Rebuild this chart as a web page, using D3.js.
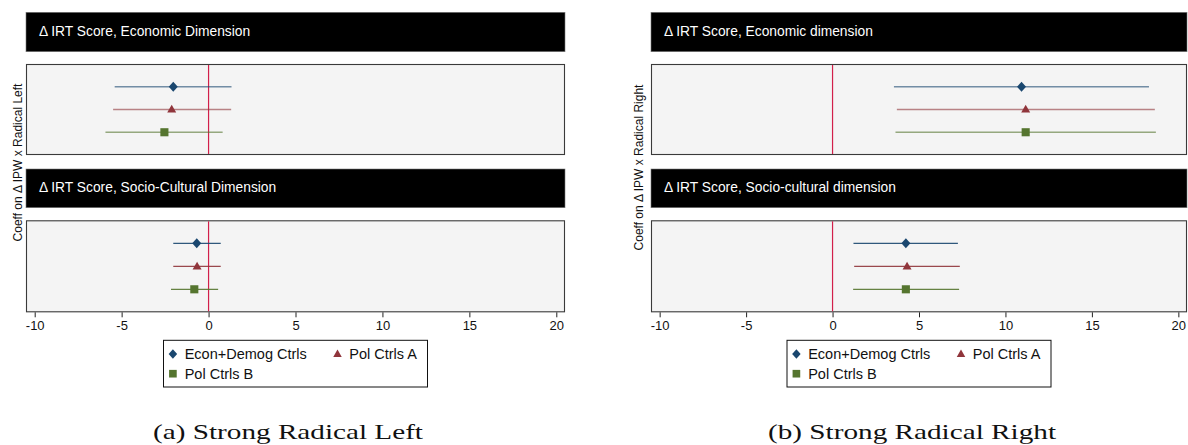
<!DOCTYPE html>
<html>
<head>
<meta charset="utf-8">
<script src="https://cdn.jsdelivr.net/npm/d3@7"></script>
<style>
html,body{margin:0;padding:0;background:#fff;}
svg{display:block;}
</style>
</head>
<body>
<svg id="chart" width="1188" height="445"></svg>
<script>
// ---------------- DATA ----------------
const seriesNames = ["Econ+Demog Ctrls", "Pol Ctrls A", "Pol Ctrls B"];
const xTickValues = [-10, -5, 0, 5, 10, 15, 20];
const xTickLabels = ["-10", "-5", "0", "5", "10", "15", "20"];

const leftTitles = ["Δ IRT Score, Economic Dimension", "Δ IRT Score, Socio-Cultural Dimension"];
const rightTitles = ["Δ IRT Score, Economic dimension", "Δ IRT Score, Socio-cultural dimension"];
const yTitles = ["Coeff on Δ IPW x Radical Left", "Coeff on Δ IPW x Radical Right"];
const captions = ["(a) Strong Radical Left", "(b) Strong Radical Right"];

const leftEconEst = [-2.03, -2.12, -2.54];
const leftEconLo  = [-5.40, -5.49, -5.93];
const leftEconHi  = [1.32, 1.30, 0.81];
const leftSocEst  = [-0.68, -0.66, -0.82];
const leftSocLo   = [-2.03, -2.03, -2.16];
const leftSocHi   = [0.70, 0.70, 0.55];

const rightEconEst = [10.93, 11.17, 11.17];
const rightEconLo  = [3.55, 3.72, 3.64];
const rightEconHi  = [18.30, 18.64, 18.70];
const rightSocEst  = [4.24, 4.31, 4.24];
const rightSocLo   = [1.21, 1.25, 1.19];
const rightSocHi   = [7.25, 7.36, 7.32];

// ---------------- STYLE ----------------
const markerColors = ["#1a476f", "#90353b", "#55752f"];
const markerShapes = ["diamond", "triangle", "square"];
const sansFont = "'Liberation Sans', Arial, Helvetica, sans-serif";
const serifFont = "'Liberation Serif', 'Times New Roman', serif";

const svg = d3.select("#chart");

function shapePath(shape, cx, cy, s) {
  if (shape === "diamond") {
    const w = s * 0.5, h = s * 0.56;
    return `M${cx},${cy - h}L${cx + w},${cy}L${cx},${cy + h}L${cx - w},${cy}Z`;
  } else if (shape === "triangle") {
    const w = s * 0.5, h = s * 0.86;
    return `M${cx},${cy - h * 0.6}L${cx + w},${cy + h * 0.4}L${cx - w},${cy + h * 0.4}Z`;
  } else {
    const w = s * 0.45;
    return `M${cx - w},${cy - w}L${cx + w},${cy - w}L${cx + w},${cy + w}L${cx - w},${cy + w}Z`;
  }
}

const headerBands = [[12.3, 51.7], [169, 207.7]];
const plotBands = [[64, 155], [220.3, 312.3]];

const panels = [
  {x0: 26, x1: 565, titles: leftTitles, yTitle: yTitles[0], yTitleX: 18, yTitleY: 162.5,
   caption: captions[0], capX: 288, capW: 270,
   est: [leftEconEst, leftSocEst], lo: [leftEconLo, leftSocLo], hi: [leftEconHi, leftSocHi]},
  {x0: 651, x1: 1187, titles: rightTitles, yTitle: yTitles[1], yTitleX: 639, yTitleY: 167.5,
   caption: captions[1], capX: 912, capW: 288,
   est: [rightEconEst, rightSocEst], lo: [rightEconLo, rightSocLo], hi: [rightEconHi, rightSocHi]}
];

panels.forEach(p => {
  const g = svg.append("g");
  const x = d3.scaleLinear().domain([-10.5, 20.5]).range([p.x0, p.x1]);

  [0, 1].forEach(k => {
    const [hy0, hy1] = headerBands[k];
    g.append("rect").attr("x", p.x0).attr("y", hy0).attr("width", p.x1 - p.x0).attr("height", hy1 - hy0)
      .attr("fill", "#000").attr("stroke", "#7a7a7a").attr("stroke-width", 0.6);
    g.append("text").attr("x", p.x0 + 13).attr("y", (hy0 + hy1) / 2 - 1)
      .attr("dominant-baseline", "central").attr("fill", "#fff")
      .attr("font-family", sansFont).attr("font-size", 13.8).text(p.titles[k]);

    const [py0, py1] = plotBands[k];
    const y = d3.scaleLinear().domain([0, 4]).range([py0, py1]);
    g.append("rect").attr("x", p.x0 + 0.5).attr("y", py0 + 0.5).attr("width", p.x1 - p.x0 - 1).attr("height", py1 - py0 - 1)
      .attr("fill", "#f4f4f4").attr("stroke", "#3a3a3a").attr("stroke-width", 1.1);

    // zero line
    g.append("line").attr("x1", x(0)).attr("x2", x(0)).attr("y1", py0 + 1).attr("y2", py1 - 1)
      .attr("stroke", "#d21f4a").attr("stroke-width", 1.2);

    const est = p.est[k], lo = p.lo[k], hi = p.hi[k];
    seriesNames.forEach((nm, i) => {
      const yy = y(i + 1);
      g.append("line").attr("x1", x(lo[i])).attr("x2", x(hi[i])).attr("y1", yy).attr("y2", yy)
        .attr("stroke", markerColors[i]).attr("stroke-width", k === 0 ? 1.6 : 1.3)
        .attr("stroke-opacity", k === 0 ? 0.6 : 0.9);
      g.append("path").attr("d", shapePath(markerShapes[i], x(est[i]), yy, 9))
        .attr("fill", markerColors[i]);
    });

    if (k === 1) {
      const axis = d3.axisBottom(x).tickValues(xTickValues)
        .tickFormat((d, i) => xTickLabels[i]).tickSize(5).tickPadding(3);
      const ag = g.append("g").attr("transform", `translate(0,${py1})`).call(axis);
      ag.select(".domain").remove();
      ag.selectAll(".tick line").attr("stroke", "#222").attr("stroke-width", 1);
      ag.selectAll(".tick text").attr("font-family", sansFont).attr("font-size", 13).attr("fill", "#111");
    }
  });

  // y-axis title
  g.append("text").attr("transform", `translate(${p.yTitleX},${p.yTitleY}) rotate(-90)`)
    .attr("text-anchor", "middle").attr("dominant-baseline", "central")
    .attr("font-family", sansFont).attr("font-size", 12).attr("fill", "#111").text(p.yTitle);

  // legend
  const cx = (p.x0 + p.x1) / 2, lw = 264;
  const lx = cx - lw / 2, ly = 340.3, lh = 46.7;
  g.append("rect").attr("x", lx).attr("y", ly).attr("width", lw).attr("height", lh)
    .attr("fill", "#fff").attr("stroke", "#111").attr("stroke-width", 1);
  const pos = [[9.4, 354], [174, 354], [9.4, 373.7]];
  seriesNames.forEach((nm, i) => {
    const [ox, oy] = pos[i];
    g.append("path").attr("d", shapePath(markerShapes[i], lx + ox, oy, 8.5)).attr("fill", markerColors[i]);
    g.append("text").attr("x", lx + ox + 11.8).attr("y", oy).attr("dominant-baseline", "central")
      .attr("font-family", sansFont).attr("font-size", 14.5).attr("fill", "#111").text(nm);
  });

  // caption
  g.append("text").attr("x", p.capX - p.capW / 2).attr("y", 439)
    .attr("textLength", p.capW).attr("lengthAdjust", "spacingAndGlyphs")
    .attr("font-family", serifFont).attr("font-size", 22).attr("fill", "#111").text(p.caption);
});
</script>
</body>
</html>
